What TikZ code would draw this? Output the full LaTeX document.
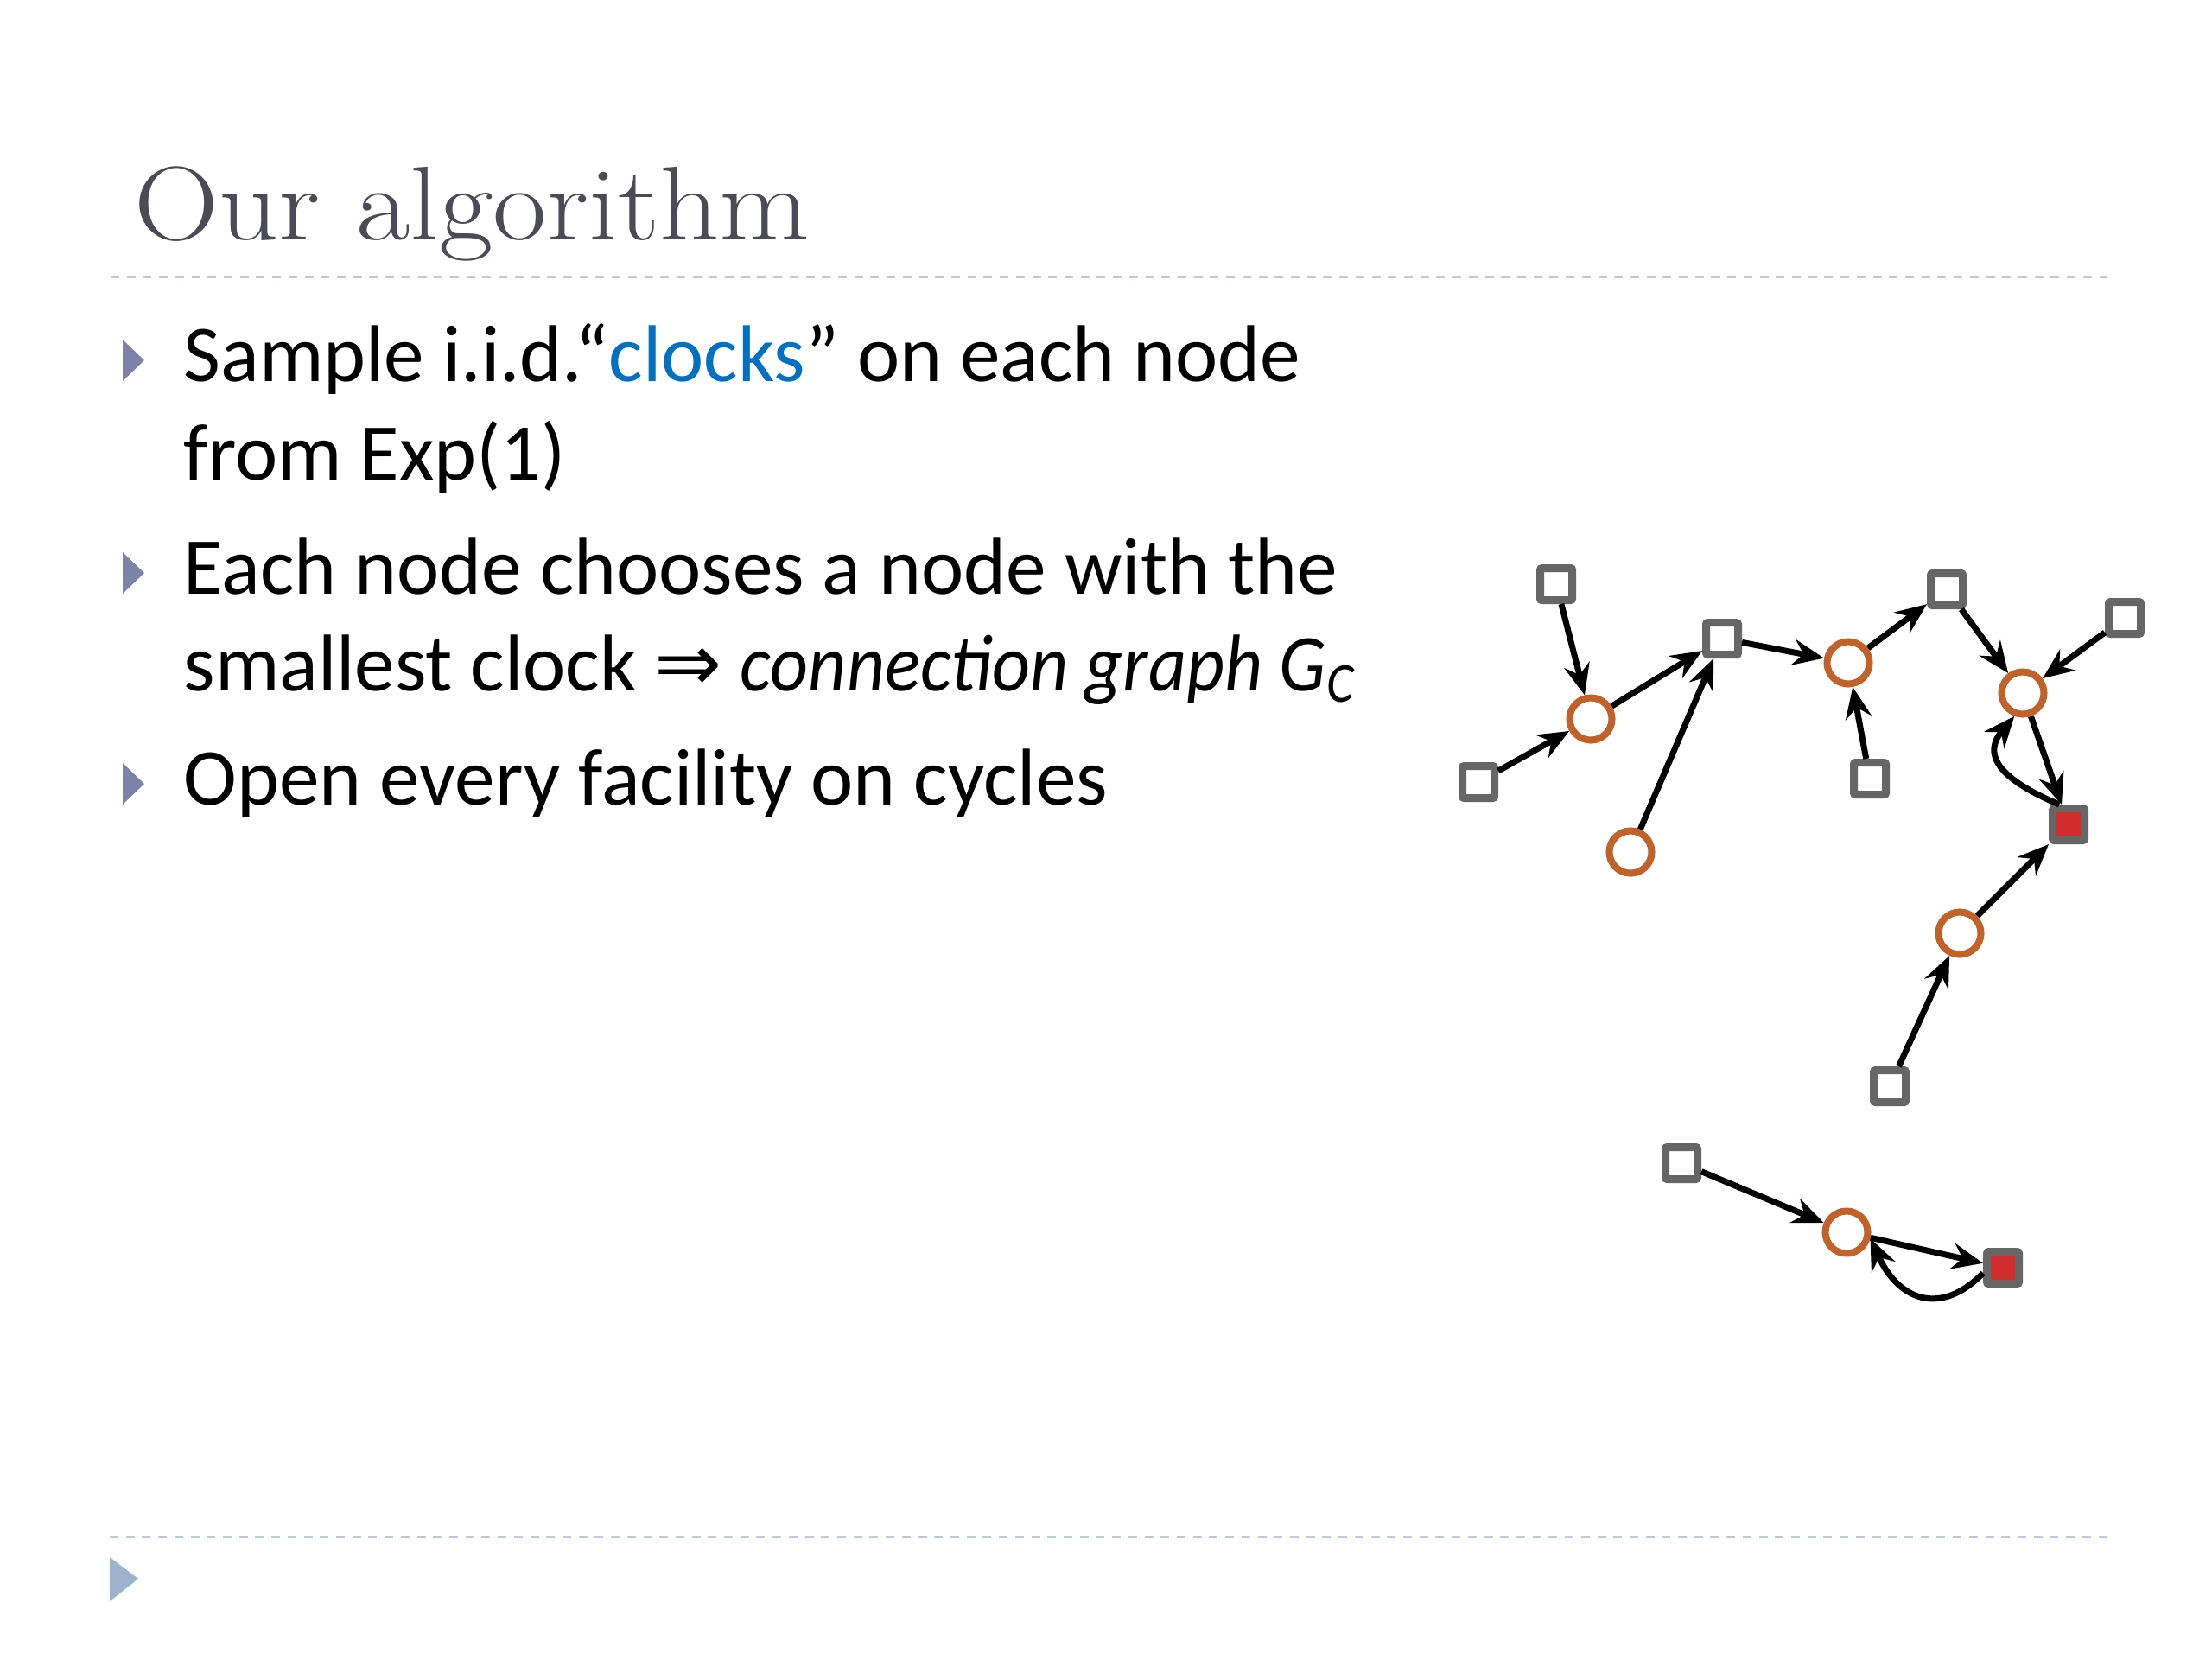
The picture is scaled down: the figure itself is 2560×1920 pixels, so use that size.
\documentclass[tikz,border=0pt]{standalone}
\usepackage{fontspec}
\newfontfamily\bodyfont{Carlito}
\newfontfamily\symfont{DejaVu Sans}
\usetikzlibrary{arrows.meta}
\definecolor{sqgray}{RGB}{102,102,102}
\definecolor{facred}{RGB}{210,45,45}
\definecolor{clorange}{RGB}{193,98,43}
\definecolor{clockblue}{RGB}{0,112,192}
\definecolor{titlec}{RGB}{75,75,88}
\definecolor{bulletc}{RGB}{124,131,171}
\definecolor{footc}{RGB}{156,180,204}
\definecolor{rulec}{RGB}{190,202,215}
\tikzset{
  sq/.style={rectangle, draw=sqgray, line width=0.09cm, fill=white, minimum size=0.37cm, inner sep=0pt, rounded corners=0.02cm},
  fac/.style={sq, fill=facred},
  cl/.style={circle, draw=clorange, line width=0.08cm, fill=white, minimum size=0.49cm, inner sep=0pt},
  arr/.style={-{Stealth[length=0.36cm,width=0.3cm,inset=0.12cm]}, line width=0.07cm, black},
  txt/.style={anchor=base west, inner sep=0pt, font=\bodyfont\fontsize{26.5pt}{30pt}\selectfont},
  ttl/.style={anchor=base west, inner sep=0pt, text=titlec, font=\fontsize{34.5pt}{40pt}\selectfont},
  rulel/.style={draw=rulec, line width=0.03cm, dash pattern=on 0.1cm off 0.087cm},
}
\begin{document}
\begin{tikzpicture}[x=0.01cm,y=0.01cm]
\useasboundingbox (0,0) rectangle (2560,-1920);
\fill[white] (0,0) rectangle (2560,-1920);
% title and rules
\node[ttl] (title) at (155,-277) {\scalebox{1.12}[1]{Our algorithm}};
\draw[rulel] (128,-320) -- (2438,-320);
\draw[rulel] (127,-1778) -- (2438,-1778);
\fill[footc] (127,-1802) -- (127,-1853) -- (160,-1827) -- cycle;
% bullets
\fill[bulletc] (142,-393) -- (142,-441) -- (167,-417) -- cycle;
\fill[bulletc] (142,-639) -- (142,-687) -- (167,-663) -- cycle;
\fill[bulletc] (142,-883) -- (142,-931) -- (167,-907) -- cycle;
\node[txt] (l1) at (212,-441) {Sample i.i.d.“\textcolor{clockblue}{clocks}” on each node};
\node[txt] (l2) at (212,-555) {from Exp(1)};
\node[txt] (l3) at (212,-687) {Each node chooses a node with the};
\node[txt] (l4) at (212,-799) {smallest clock {\symfont ⇒} \scalebox{0.92}[1]{\itshape connection graph G\textsubscript{C}}};
\node[txt] (l5) at (212,-931) {Open every facility on cycles};
% graph nodes
\node[sq] (S1) at (1801,-676) {};
\node[sq] (S2) at (1711,-905) {};
\node[sq] (S3) at (1993,-739) {};
\node[sq] (S4) at (2253,-682) {};
\node[sq] (S5) at (2459,-715) {};
\node[sq] (S6) at (2164,-901) {};
\node[sq] (S7) at (2187,-1257) {};
\node[sq] (S8) at (1946,-1346) {};
\node[fac] (R1) at (2394,-954) {};
\node[fac] (R2) at (2318,-1467) {};
\node[cl] (C1) at (1841,-832) {};
\node[cl] (C2) at (1887,-986) {};
\node[cl] (C3) at (2139,-767) {};
\node[cl] (C4) at (2341,-802) {};
\node[cl] (C5) at (2268,-1080) {};
\node[cl] (C6) at (2137,-1426) {};
% edges
\draw[arr] (S1) -- (C1);
\draw[arr] (S2) -- (C1);
\draw[arr] (C1) -- (S3);
\draw[arr] (C2) -- (S3);
\draw[arr] (S3) -- (C3);
\draw[arr] (S6) -- (C3);
\draw[arr] (C3) -- (S4);
\draw[arr] (S4) -- (C4);
\draw[arr] (S5) -- (C4);
\draw[arr] (C4) -- (R1);
\draw[arr] (R1.115) .. controls (2310,-900) and (2295,-872) .. (C4.-110);
\draw[arr] (C5) -- (R1);
\draw[arr] (S7) -- (C5);
\draw[arr] (S8) -- (C6);
\draw[arr] (C6) -- (R2);
\draw[arr] (R2.195) .. controls (2250,-1520) and (2200,-1510) .. (C6.-15);
\end{tikzpicture}
\end{document}
